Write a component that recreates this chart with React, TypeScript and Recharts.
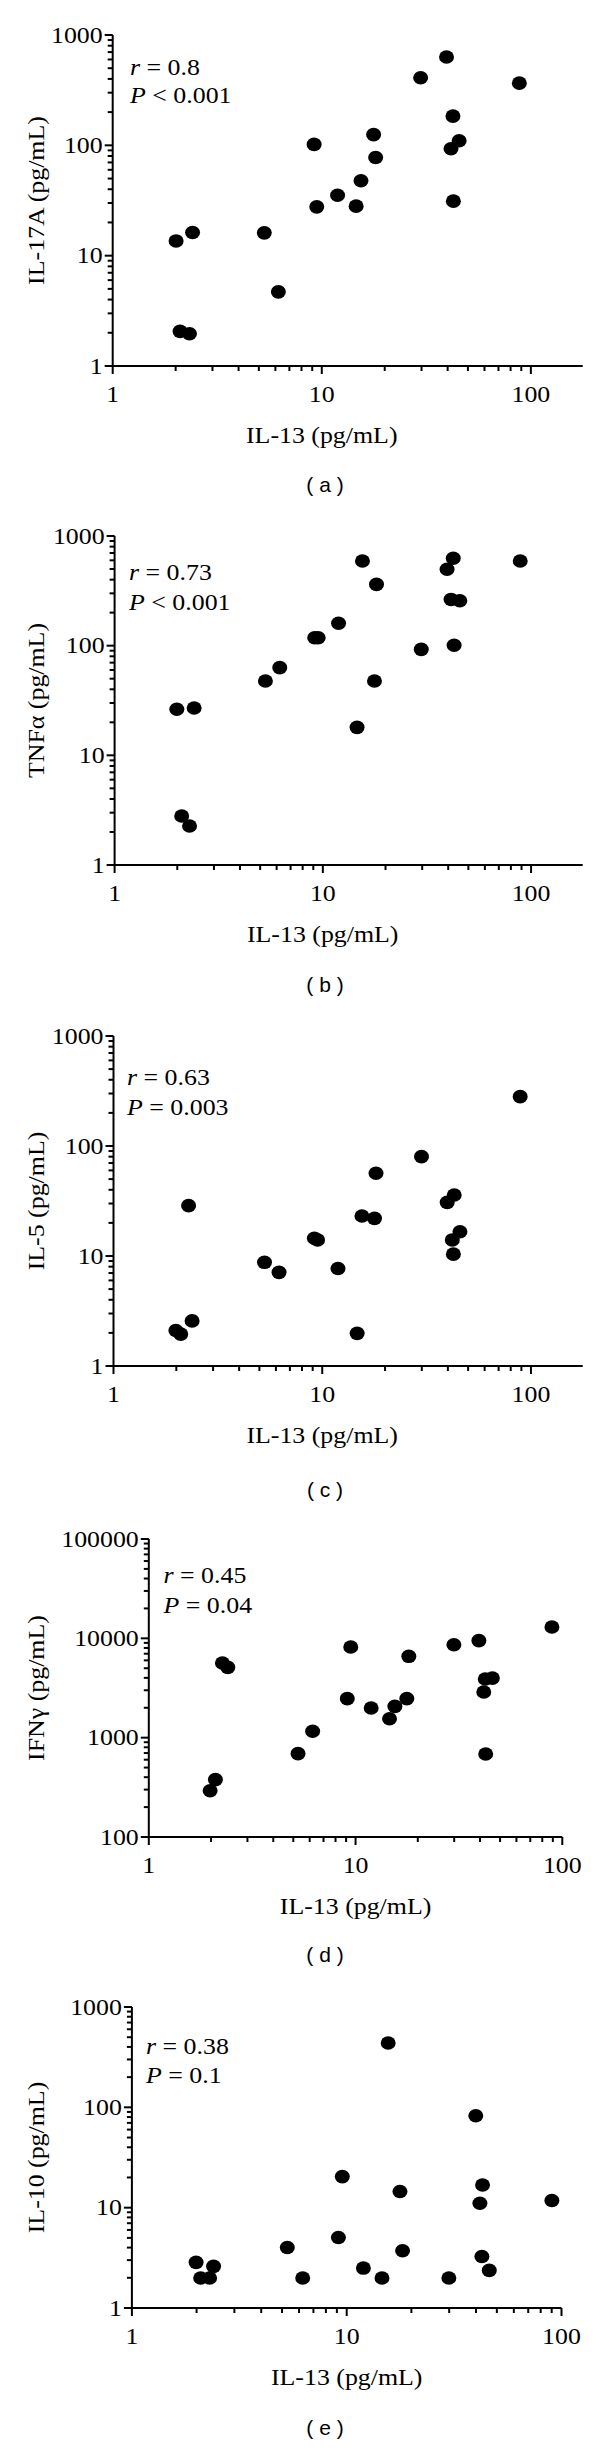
import React from 'react';
import { ScatterChart, Scatter, XAxis, YAxis } from 'recharts';

// IL-13 (pg/mL) on x, one array per panel
const il13A = [2.01, 2.1, 2.33, 2.41, 5.31, 6.2, 9.19, 9.46, 11.9, 14.6, 15.4, 17.7, 18.1, 29.7, 39.5, 41.5, 42.4, 42.6, 45.4, 88.1];
const il17a = [13.6, 2.06, 1.96, 16.2, 16.1, 4.7, 102, 27.7, 35.3, 28.1, 47.7, 125, 77.6, 410, 631, 93, 184, 31.2, 110, 366];

const il13B = [1.99, 2.1, 2.29, 2.41, 5.3, 6.21, 9.14, 9.5, 11.9, 14.6, 15.5, 17.7, 18.1, 29.7, 39.5, 41.3, 42.3, 42.7, 45.5, 88.7];
const tnfa = [26.3, 2.8, 2.27, 27, 47.6, 63, 118, 118, 160, 18, 591, 47.6, 362, 92.6, 497, 264, 626, 101, 257, 591];

const il13C = [1.99, 2.1, 2.29, 2.38, 5.29, 6.21, 9.17, 9.5, 11.9, 14.7, 15.5, 17.8, 18.1, 29.9, 39.7, 42, 42.5, 42.9, 45.7, 88.8];
const il5 = [2.1, 1.95, 28.7, 2.57, 8.76, 7.1, 14.5, 14, 7.7, 1.98, 23.1, 22, 56.5, 80, 30.7, 14, 10.4, 35.9, 16.6, 281];

const il13D = [1.98, 2.1, 2.27, 2.41, 5.27, 6.2, 9.12, 9.48, 11.9, 14.6, 15.5, 17.7, 18.1, 29.9, 39.5, 41.7, 42.4, 42.6, 45.9, 89.1];
const ifng = [292, 378, 5650, 5100, 690, 1160, 2470, 8180, 1990, 1550, 2065, 2470, 6590, 8630, 9480, 2880, 3900, 685, 3980, 13000];

const il13E = [1.99, 2.09, 2.3, 2.4, 5.29, 6.24, 9.15, 9.54, 11.96, 14.6, 15.6, 17.7, 18.2, 29.9, 39.9, 41.7, 42.6, 42.9, 46.1, 90.2];
const il10 = [2.85, 1.99, 1.99, 2.6, 4.01, 1.99, 5.04, 20.4, 2.5, 1.99, 438, 14.5, 3.72, 1.99, 82.4, 11.07, 3.26, 16.8, 2.37, 11.8];

// log axis ticks (majors get a label)
const xTicks = [1, 2, 3, 4, 5, 6, 7, 8, 9, 10, 20, 30, 40, 50, 60, 70, 80, 90, 100];
const xMajor = [1, 10, 100];
const yTicks = [1, 2, 3, 4, 5, 6, 7, 8, 9, 10, 20, 30, 40, 50, 60, 70, 80, 90, 100, 200, 300, 400, 500, 600, 700, 800, 900, 1000];
const yMajor = [1, 10, 100, 1000];
const yTicksIfn = [100, 200, 300, 400, 500, 600, 700, 800, 900, 1000, 2000, 3000, 4000, 5000, 6000, 7000, 8000, 9000, 10000, 20000, 30000, 40000, 50000, 60000, 70000, 80000, 90000, 100000];
const yMajorIfn = [100, 1000, 10000, 100000];

const SERIF = '"Liberation Serif", "Times New Roman", serif';
const SANS = '"Liberation Sans", Arial, sans-serif';
const FS = 22.5;
const STRETCH = 1.15;

function Dot(props: any) {
  const { cx, cy } = props;
  if (cx == null || cy == null) return null;
  return <ellipse cx={cx} cy={cy} rx={7.5} ry={6.8} fill="#000" />;
}

function makeXTick(majors: number[]) {
  return (props: any) => {
    const { x, y, payload } = props;
    const major = majors.includes(payload.value);
    return (
      <g>
        <line x1={x} x2={x} y1={y} y2={y + (major ? 8 : 5)} stroke="#000" strokeWidth={2} />
        {major && (
          <text transform={`translate(${x},${y + 36}) scale(${STRETCH},1)`} textAnchor="middle" fontFamily={SERIF} fontSize={FS} fill="#000">
            {payload.value}
          </text>
        )}
      </g>
    );
  };
}

function makeYTick(majors: number[]) {
  return (props: any) => {
    const { x, y, payload } = props;
    const major = majors.includes(payload.value);
    return (
      <g>
        <line x1={x - (major ? 8 : 5)} x2={x} y1={y} y2={y} stroke="#000" strokeWidth={2} />
        {major && (
          <text transform={`translate(${x - 10},${y}) scale(${STRETCH},1)`} dy="0.34em" textAnchor="end" fontFamily={SERIF} fontSize={FS} fill="#000">
            {payload.value}
          </text>
        )}
      </g>
    );
  };
}

type PanelProps = {
  xs: number[];
  ys: number[];
  xMax: number;
  yDomain: [number, number];
  yTickList: number[];
  yMajorList: number[];
  left: number;
  right: number;
  top: number;
  bottom: number;
};

function Panel({ xs, ys, xMax, yDomain, yTickList, yMajorList, left, right, top, bottom }: PanelProps) {
  const data = xs.map((x, i) => ({ x, y: ys[i] }));
  const chartTop = top - 30;
  const height = bottom - chartTop + 60;
  return (
    <div style={{ position: 'absolute', left: 0, top: chartTop, width: 600, height }}>
      <ScatterChart width={600} height={height} margin={{ top: 30, right: 600 - right, bottom: 0, left: 0 }}>
        <XAxis
          type="number"
          dataKey="x"
          scale="log"
          domain={[1, xMax]}
          allowDataOverflow
          ticks={xTicks}
          interval={0}
          tickSize={0}
          tickMargin={0}
          height={60}
          axisLine={{ stroke: '#000', strokeWidth: 2 }}
          tickLine={false}
          tick={makeXTick(xMajor)}
        />
        <YAxis
          type="number"
          dataKey="y"
          scale="log"
          domain={yDomain}
          allowDataOverflow
          ticks={yTickList}
          interval={0}
          tickSize={0}
          tickMargin={0}
          width={left}
          axisLine={{ stroke: '#000', strokeWidth: 2 }}
          tickLine={false}
          tick={makeYTick(yMajorList)}
        />
        <Scatter data={data} shape={<Dot />} isAnimationActive={false} />
      </ScatterChart>
    </div>
  );
}

const panels = [
  { xs: il13A, ys: il17a, xMax: 177, yDomain: [1, 1000], yTickList: yTicks, yMajorList: yMajor, left: 112.7, right: 582.7, top: 35, bottom: 366, x100: 530.8, yTitle: 'IL-17A (pg/mL)', r: '0.8', p: '< 0.001', ann: [130, 75, 103], cap: 'a', capY: 485 },
  { xs: il13B, ys: tnfa, xMax: 177, yDomain: [1, 1000], yTickList: yTicks, yMajorList: yMajor, left: 114.6, right: 582.7, top: 536, bottom: 865, x100: 530.8, yTitle: 'TNFα (pg/mL)', r: '0.73', p: '< 0.001', ann: [129, 580, 610], cap: 'b', capY: 985 },
  { xs: il13C, ys: il5, xMax: 177, yDomain: [1, 1000], yTickList: yTicks, yMajorList: yMajor, left: 113.5, right: 582.7, top: 1036, bottom: 1366, x100: 530.8, yTitle: 'IL-5 (pg/mL)', r: '0.63', p: '= 0.003', ann: [127, 1085, 1115], cap: 'c', capY: 1490 },
  { xs: il13D, ys: ifng, xMax: 100, yDomain: [100, 100000], yTickList: yTicksIfn, yMajorList: yMajorIfn, left: 148.8, right: 562.3, top: 1539, bottom: 1837, x100: 562.3, yTitle: 'IFNγ (pg/mL)', r: '0.45', p: '= 0.04', ann: [163.5, 1583, 1613], cap: 'd', capY: 1955 },
  { xs: il13E, ys: il10, xMax: 100, yDomain: [1, 1000], yTickList: yTicks, yMajorList: yMajor, left: 131.9, right: 561.5, top: 2007, bottom: 2308, x100: 561.5, yTitle: 'IL-10 (pg/mL)', r: '0.38', p: '= 0.1', ann: [146, 2054, 2083], cap: 'e', capY: 2428 },
];

export default function App() {
  return (
    <div style={{ position: 'relative', width: 600, height: 2457, background: '#fff' }}>
      <style>{'body{margin:0}'}</style>
      {panels.map((p) => (
        <Panel key={p.cap} xs={p.xs} ys={p.ys} xMax={p.xMax} yDomain={p.yDomain as [number, number]} yTickList={p.yTickList} yMajorList={p.yMajorList} left={p.left} right={p.right} top={p.top} bottom={p.bottom} />
      ))}
      <svg width={600} height={2457} style={{ position: 'absolute', left: 0, top: 0, pointerEvents: 'none' }}>
        {panels.map((p) => (
          <g key={p.cap} fontFamily={SERIF} fontSize={FS} fill="#000">
            <text transform={`translate(36.5,${(p.top + p.bottom) / 2}) rotate(-90) scale(${STRETCH},1)`} textAnchor="middle" dy="0.34em">
              {p.yTitle}
            </text>
            <text transform={`translate(${(p.left + p.x100) / 2},${p.bottom + 69}) scale(${STRETCH},1)`} textAnchor="middle" dy="0.34em">
              IL-13 (pg/mL)
            </text>
            <text transform={`translate(${p.ann[0]},${p.ann[1]}) scale(${STRETCH},1)`}>
              <tspan fontStyle="italic">r</tspan> = {p.r}
            </text>
            <text transform={`translate(${p.ann[0]},${p.ann[2]}) scale(${STRETCH},1)`}>
              <tspan fontStyle="italic">P</tspan> {p.p}
            </text>
            <text x={325} y={p.capY} dy="0.34em" textAnchor="middle" fontFamily={SANS} fontSize={21}>
              ( {p.cap} )
            </text>
          </g>
        ))}
      </svg>
    </div>
  );
}
